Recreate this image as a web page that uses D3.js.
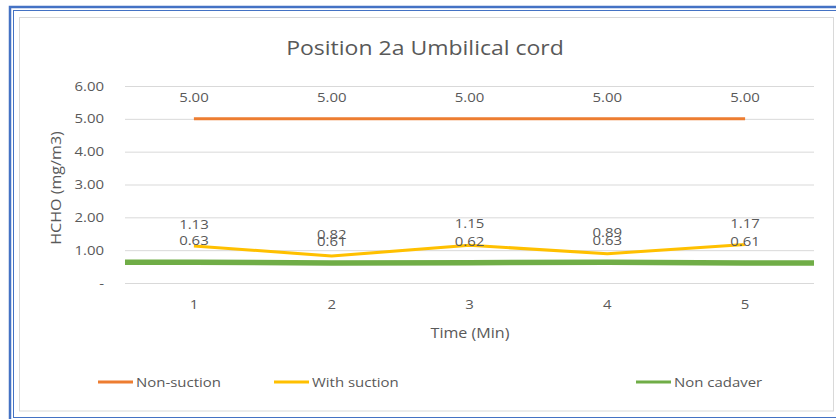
<!DOCTYPE html>
<html>
<head>
<meta charset="utf-8">
<script src="https://cdn.jsdelivr.net/npm/d3@7"></script>
<style>
  html, body { margin: 0; padding: 0; background: #fff; }
  svg { display: block; font-family: "Open Sans", sans-serif; }
</style>
</head>
<body>
<svg id="chart" width="836" height="419"></svg>
<script>
// Formaldehyde readings, position 2a (umbilical cord)
const categories = ["1", "2", "3", "4", "5"];
const nonSuction = [5.00, 5.00, 5.00, 5.00, 5.00];
const withSuction = [1.13, 0.82, 1.15, 0.89, 1.17];
const nonCadaver = [0.63, 0.61, 0.62, 0.63, 0.61];
const yTicks = [0, 1, 2, 3, 4, 5, 6];
const yTickLabels = ["-", "1.00", "2.00", "3.00", "4.00", "5.00", "6.00"];

const seriesNames = ["Non-suction", "With suction", "Non cadaver"];
const colors = ["#ED7D31", "#FFC000", "#70AD47"];

const svg = d3.select("#chart");
const textColor = "#595959";
const sx = 1.15; // horizontal stretch of the wide UI lettering

// Place a text at (x, y) stretched horizontally
function wide(sel, x, y, extra) {
  return sel.attr("transform", (d, i) => {
    const px = typeof x === "function" ? x(d, i) : x;
    const py = typeof y === "function" ? y(d, i) : y;
    return `translate(${px},${py})${extra || ""} scale(${sx},1)`;
  }).attr("x", 0).attr("y", 0);
}

// Frame: double blue outline and light chart border
svg.append("rect").attr("x", 10).attr("y", 7).attr("width", 840).attr("height", 420)
  .attr("fill", "none").attr("stroke", "#4472C4").attr("stroke-width", 2.5);
svg.append("rect").attr("x", 13.5).attr("y", 10.5).attr("width", 840).attr("height", 407)
  .attr("fill", "none").attr("stroke", "#4472C4").attr("stroke-width", 1);
svg.append("rect").attr("x", 19.5).attr("y", 17.5).attr("width", 814).attr("height", 393.5)
  .attr("fill", "#fff").attr("stroke", "#d9d9d9").attr("stroke-width", 1);

const plot = { left: 125, right: 814, top: 86, bottom: 283 };

const x = d3.scaleBand().domain(categories).range([plot.left, plot.right]);
const cx = c => x(c) + x.bandwidth() / 2;
const y = d3.scaleLinear().domain([0, 6]).range([plot.bottom, plot.top]);

// Title
wide(svg.append("text"), 425, 55).attr("text-anchor", "middle")
  .attr("font-size", 20).attr("fill", textColor).text("Position 2a Umbilical cord");

// Gridlines and y tick labels
const yAxis = d3.axisLeft(y).tickValues(yTicks)
  .tickFormat((d, i) => yTickLabels[i])
  .tickSize(-(plot.right - plot.left)).tickPadding(21);
const gy = svg.append("g").attr("transform", `translate(${plot.left},0)`).call(yAxis);
gy.select(".domain").remove();
gy.selectAll(".tick line").attr("stroke", "#d9d9d9").attr("stroke-width", 1);
gy.selectAll(".tick text").attr("fill", textColor).attr("font-size", 13)
  .attr("font-family", "Open Sans, sans-serif")
  .attr("transform", `translate(-21,0) scale(${sx},1)`).attr("x", 0);

// x tick labels
const xAxis = d3.axisBottom(x).tickSize(0).tickPadding(17);
const gx = svg.append("g").attr("transform", `translate(0,${plot.bottom})`).call(xAxis);
gx.select(".domain").remove();
gx.selectAll(".tick text").attr("fill", textColor).attr("font-size", 13)
  .attr("font-family", "Open Sans, sans-serif")
  .attr("transform", `scale(${sx},1)`);

// Axis titles
wide(svg.append("text"), 470, 338).attr("text-anchor", "middle")
  .attr("font-size", 14).attr("fill", textColor).text("Time (Min)");
wide(svg.append("text"), 61, 188, " rotate(-90)")
  .attr("text-anchor", "middle").attr("font-size", 14).attr("fill", textColor)
  .text("HCHO (mg/m3)");

const line = d3.line().x(d => d[0]).y(d => y(d[1]));

// Non cadaver reference runs across the whole plot width
const cadPts = categories.map((c, i) => [cx(c), nonCadaver[i]]);
cadPts.unshift([plot.left, nonCadaver[0]]);
cadPts.push([plot.right, nonCadaver[nonCadaver.length - 1]]);
svg.append("path").attr("d", line(cadPts)).attr("fill", "none")
  .attr("stroke", colors[2]).attr("stroke-width", 5.5);

svg.append("path").attr("d", line(categories.map((c, i) => [cx(c), withSuction[i]])))
  .attr("fill", "none").attr("stroke", colors[1]).attr("stroke-width", 3)
  .attr("stroke-linejoin", "round");

svg.append("path").attr("d", line(categories.map((c, i) => [cx(c), nonSuction[i]])))
  .attr("fill", "none").attr("stroke", colors[0]).attr("stroke-width", 3);

// Value labels
function labels(values) {
  wide(svg.append("g").selectAll("text").data(values).join("text"),
       (d, i) => cx(categories[i]), d => y(d) - 17)
    .attr("text-anchor", "middle").attr("font-size", 13).attr("fill", textColor)
    .text(d => d.toFixed(2));
}
labels(nonSuction);
labels(withSuction);
labels(nonCadaver);

// Legend
const legendX = [98, 274, 636];
const lg = svg.append("g").selectAll("g").data(seriesNames).join("g")
  .attr("transform", (d, i) => `translate(${legendX[i]},382)`);
lg.append("line").attr("x1", 0).attr("x2", 35).attr("y1", 0).attr("y2", 0)
  .attr("stroke", (d, i) => colors[i]).attr("stroke-width", 3);
wide(lg.append("text"), 38, 5).attr("font-size", 13)
  .attr("fill", textColor).text(d => d);
</script>
</body>
</html>
